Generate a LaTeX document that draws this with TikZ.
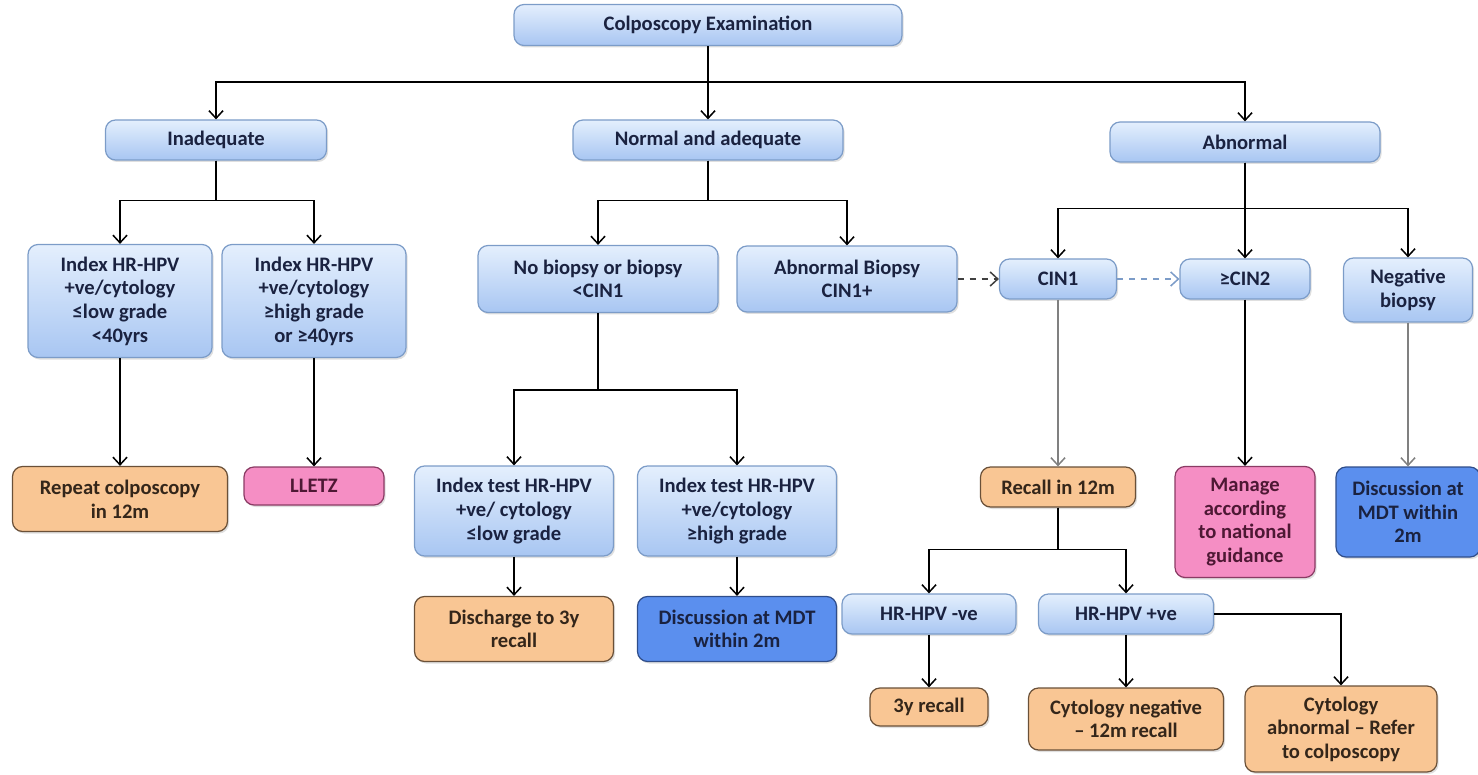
\documentclass[tikz,border=0pt]{standalone}
\usepackage{fontspec}
\setmainfont{Carlito}
\usepackage{xcolor}
\usepackage{tikz}
\usetikzlibrary{positioning}
\usetikzlibrary{shapes,arrows.meta,shadows}
\definecolor{blueTop}{HTML}{E4EFFD}
\definecolor{blueBot}{HTML}{A8C6F2}
\definecolor{blueLine}{HTML}{7C9CC8}
\definecolor{peach}{HTML}{F9C694}
\definecolor{peachLine}{HTML}{6A5038}
\definecolor{pinkFill}{HTML}{F58EC4}
\definecolor{pinkLine}{HTML}{8A3B64}
\definecolor{mdtFill}{HTML}{5B8FEE}
\definecolor{mdtLine}{HTML}{2F4D8A}
\definecolor{navy}{HTML}{1A2240}
\definecolor{brownText}{HTML}{34261A}
\definecolor{plum}{HTML}{4E1834}
\tikzstyle{block} = [rectangle, draw, align=center, rounded corners=5pt, line width=0.6pt, inner sep=1pt, font=\fontsize{10.3}{11.8}\selectfont\bfseries, drop shadow={shadow xshift=0.8pt, shadow yshift=-1pt, opacity=0.25}]
\tikzstyle{query} = [block, draw=blueLine, top color=blueTop, bottom color=blueBot, text=navy]
\tikzstyle{followup} = [block, draw=peachLine, fill=peach, text=brownText]
\tikzstyle{treat} = [block, draw=pinkLine, fill=pinkFill, text=plum]
\tikzstyle{mdt} = [block, draw=mdtLine, fill=mdtFill, text=navy]
\tikzstyle{arrow} = [draw, -{Straight Barb[length=3.8pt,width=7pt]}, line width=0.75pt]
\tikzstyle{grayarrow} = [arrow, draw=gray]
\begin{document}
\begin{tikzpicture}[x=0.5pt, y=-0.5pt]
\useasboundingbox (0,0) rectangle (1478,775);
%% top level
\node[query, minimum width=194pt, minimum height=20.5pt] at (708,25) (exam) {Colposcopy Examination};
\node[query, minimum width=110.5pt, minimum height=20pt] at (216,140) (inad) {Inadequate};
\node[query, minimum width=135pt, minimum height=20pt] at (708,140) (normal) {Normal and adequate};
\node[query, minimum width=135pt, minimum height=20pt] at (1245,142) (abn) {Abnormal};
\path[arrow] (exam.south) -- ++(0,36) -| (inad.north);
\path[arrow] (exam.south) -- ++(0,36) -| (abn.north);
\path[arrow] (exam.south) -- (normal.north);

%% inadequate
\node[query, minimum width=92pt, minimum height=56.5pt] at (120,301) (idxlow) {Index HR-HPV\\+ve/cytology\\≤low grade\\<40yrs};
\node[query, minimum width=92pt, minimum height=56.5pt] at (314,301) (idxhigh) {Index HR-HPV\\+ve/cytology\\≥high grade\\or ≥40yrs};
\path[arrow] (inad.south) -- ++(0,40) -| (idxlow.north);
\path[arrow] (inad.south) -- ++(0,40) -| (idxhigh.north);

\node[followup, minimum width=107.5pt, minimum height=32.5pt] at (120,499) (repeat) {Repeat colposcopy\\in 12m};
\node[treat, minimum width=70pt, minimum height=19pt] at (314,486) (lletz) {LLETZ};
\path[arrow] (idxlow) -- (repeat);
\path[arrow] (idxhigh) -- (lletz);

%% normal and adequate
\node[query, minimum width=120pt, minimum height=33.5pt] at (598,279) (nobx) {No biopsy or biopsy\\<CIN1};
\node[query, minimum width=110pt, minimum height=33pt] at (847,279) (abnbx) {Abnormal Biopsy\\CIN1+};
\path[arrow] (normal.south) -- ++(0,40) -| (nobx.north);
\path[arrow] (normal.south) -- ++(0,40) -| (abnbx.north);

\node[query, minimum width=99.5pt, minimum height=45pt] at (514,511) (testlow) {Index test HR-HPV\\+ve/ cytology\\≤low grade};
\node[query, minimum width=99.5pt, minimum height=45pt] at (737,511) (testhigh) {Index test HR-HPV\\+ve/cytology\\≥high grade};
\path[arrow] (nobx.south) -- ++(0,77) -| (testlow.north);
\path[arrow] (nobx.south) -- ++(0,77) -| (testhigh.north);

\node[followup, minimum width=99.5pt, minimum height=32.5pt] at (514,629) (discharge) {Discharge to 3y\\recall};
\node[mdt, minimum width=99.5pt, minimum height=32.5pt] at (737,629) (mdtleft) {Discussion at MDT\\within 2m};
\path[arrow] (testlow) -- (discharge);
\path[arrow] (testhigh) -- (mdtleft);

%% abnormal
\node[query, minimum width=58.5pt, minimum height=20pt] at (1058,279) (cin1) {CIN1};
\node[query, minimum width=65pt, minimum height=20pt] at (1245,279) (cin2) {≥CIN2};
\node[query, minimum width=64.5pt, minimum height=32pt] at (1408,290) (negbx) {Negative\\biopsy};
\path[arrow] (abn.south) -- ++(0,46) -| (cin1.north);
\path[arrow] (abn.south) -- ++(0,46) -| (negbx.north);
\path[arrow] (abn.south) -- (cin2.north);
\path[arrow, dashed, draw=darkgray] (abnbx) -- (cin1);
\path[arrow, dashed, draw=blueLine] (cin1) -- (cin2);

\node[followup, minimum width=77.5pt, minimum height=20pt] at (1058,487) (recall) {Recall in 12m};
\node[treat, minimum width=70pt, minimum height=55.5pt] at (1245,522) (manage) {Manage\\according\\to national\\guidance};
\node[mdt, minimum width=72pt, minimum height=45pt] at (1408,512) (mdtright) {Discussion at\\MDT within\\2m};
\path[grayarrow] (cin1) -- (recall);
\path[arrow] (cin2) -- (manage);
\path[grayarrow] (negbx) -- (mdtright);

%% recall in 12m
\node[query, minimum width=87pt, minimum height=20pt] at (929,614) (hpvneg) {HR-HPV -ve};
\node[query, minimum width=87.5pt, minimum height=20pt] at (1126,614) (hpvpos) {HR-HPV +ve};
\path[arrow] (recall.south) -- ++(0,42) -| (hpvneg.north);
\path[arrow] (recall.south) -- ++(0,42) -| (hpvpos.north);

\node[followup, minimum width=59pt, minimum height=19pt] at (929,707) (threey) {3y recall};
\node[followup, minimum width=97.5pt, minimum height=31pt] at (1126,719) (cytoneg) {Cytology negative\\– 12m recall};
\node[followup, minimum width=96pt, minimum height=43pt] at (1341,729) (cytoabn) {Cytology\\abnormal – Refer\\to colposcopy};
\path[arrow] (hpvneg) -- (threey);
\path[arrow] (hpvpos) -- (cytoneg);
\path[arrow] (hpvpos.east) -| (cytoabn.north);
\end{tikzpicture}
\end{document}
